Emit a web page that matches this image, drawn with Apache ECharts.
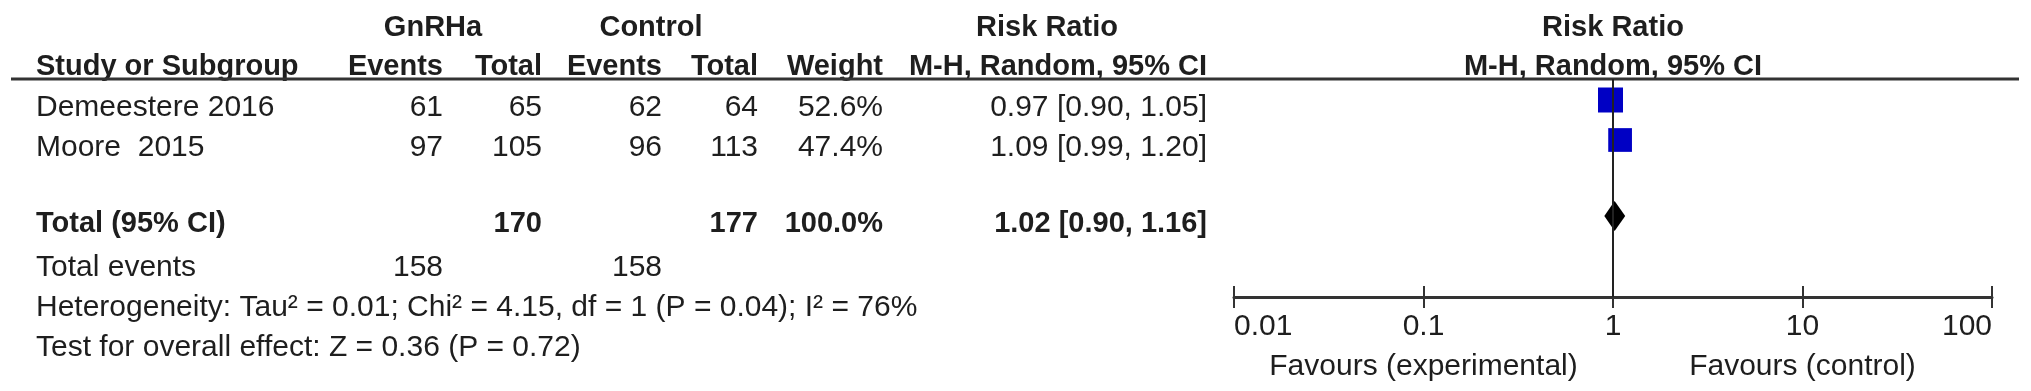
<!DOCTYPE html>
<html>
<head>
<meta charset="utf-8">
<title>Forest plot</title>
<script src="https://cdn.jsdelivr.net/npm/echarts@6/dist/echarts.min.js"></script>
<style>
  html, body { margin: 0; padding: 0; background: #fff; }
  #chart { width: 2031px; height: 391px; }
</style>
</head>
<body>
<div id="chart"></div>
<script>
// study data
var studies = ['Demeestere 2016', 'Moore  2015'];
var gnrhaEvents = [61, 97];
var gnrhaTotal = [65, 105];
var controlEvents = [62, 96];
var controlTotal = [64, 113];
var weights = [52.6, 47.4];
var riskRatio = [0.97, 1.09];
var ciLow = [0.90, 0.99];
var ciHigh = [1.05, 1.20];

// pooled result
var pooled = { rr: 1.02, low: 0.90, high: 1.16 };
var pooledTotals = { gnrha: 170, control: 177, weight: '100.0%' };
var totalEvents = { gnrha: 158, control: 158 };
var heterogeneityText = 'Heterogeneity: Tau\u00b2 = 0.01; Chi\u00b2 = 4.15, df = 1 (P = 0.04); I\u00b2 = 76%';
var overallText = 'Test for overall effect: Z = 0.36 (P = 0.72)';

var xTicks = [0.01, 0.1, 1, 10, 100];

// row positions on the y scale (1 row = 40px)
var studyRows = [1, 2];
var totalRow = 3.9;

var FONT = '"Liberation Sans", Arial, sans-serif';
var TXT = '#1e1e1e';
var FS_B = 29;   // bold headers
var FS = 30;     // regular text

var chart = echarts.init(document.getElementById('chart'));

var fmt = function (v) { return v.toFixed(2); };

var option = {
  backgroundColor: '#fff',
  animation: false,
  grid: { left: 1234, right: 39, top: 79, height: 218 },
  xAxis: [
    {
      type: 'log', logBase: 10, min: 0.01, max: 100, interval: 1,
      position: 'bottom',
      axisLine: { show: true, lineStyle: { color: '#333', width: 3 } },
      axisTick: { show: true, inside: false, length: 11, lineStyle: { color: '#333', width: 2 } },
      axisLabel: {
        show: true, margin: 15, color: TXT, fontSize: FS, fontFamily: FONT,
        alignMinLabel: 'left', alignMaxLabel: 'right',
        formatter: function (v) {
          var best = xTicks.reduce(function (a, b) { return Math.abs(Math.log10(b) - Math.log10(v)) < Math.abs(Math.log10(a) - Math.log10(v)) ? b : a; });
          return String(best);
        }
      },
      splitLine: { show: false }
    },
    {
      type: 'log', logBase: 10, min: 0.01, max: 100, interval: 1,
      position: 'bottom',
      axisLine: { show: false },
      axisTick: { show: true, inside: true, length: 11, lineStyle: { color: '#333', width: 2 } },
      axisLabel: { show: false },
      splitLine: { show: false }
    }
  ],
  yAxis: { type: 'value', inverse: true, min: 0.475, max: 5.925, show: false },
  series: [
    {
      // confidence intervals + line of no effect
      type: 'custom',
      z: 1,
      data: studies.map(function (s, i) { return [ciLow[i], ciHigh[i], studyRows[i]]; }),
      renderItem: function (params, api) {
        var a = api.coord([api.value(0), api.value(2)]);
        var b = api.coord([api.value(1), api.value(2)]);
        return { type: 'line', shape: { x1: a[0], y1: a[1], x2: b[0], y2: b[1] }, style: { stroke: '#222', lineWidth: 2 } };
      },
      markLine: {
        silent: true,
        symbol: ['none', 'none'],
        label: { show: false },
        lineStyle: { color: '#222', width: 2, type: 'solid' },
        data: [{ xAxis: 1 }]
      }
    },
    {
      type: 'scatter',
      z: 3,
      symbol: 'rect',
      data: studies.map(function (s, i) { return [riskRatio[i], studyRows[i], weights[i]]; }),
      symbolSize: function (v) { return 25 * Math.sqrt(v[2] / 52.6); },
      itemStyle: { color: '#0000c4', opacity: 1 }
    },
    {
      type: 'custom',
      z: 3,
      data: [[pooled.low, pooled.rr, pooled.high, totalRow]],
      renderItem: function (params, api) {
        var l = api.coord([api.value(0), api.value(3)]);
        var m = api.coord([api.value(1), api.value(3)]);
        var r = api.coord([api.value(2), api.value(3)]);
        return {
          type: 'polygon',
          shape: { points: [[l[0], l[1]], [m[0], m[1] - 15], [r[0], r[1]], [m[0], m[1] + 15]] },
          style: { fill: '#000' }
        };
      }
    }
  ]
};

chart.setOption(option);

// table text, placed on the same row scale as the plot
function rowY(r) { return chart.convertToPixel({ yAxisIndex: 0 }, r) + 8; }
function colX(v) { return chart.convertToPixel({ xAxisIndex: 0 }, v); }

function txt(text, x, y, align, bold) {
  return {
    type: 'text', silent: true,
    style: {
      text: String(text), x: x, y: y,
      textAlign: align, align: align,
      textVerticalAlign: 'middle', verticalAlign: 'middle',
      font: (bold ? 'bold ' + FS_B : FS) + 'px ' + FONT,
      fill: TXT
    }
  };
}

var cols = { study: 36, gEv: 443, gTot: 542, cEv: 662, cTot: 758, weight: 883, ci: 1207 };
var g = [];
var h1 = rowY(-1), h2 = rowY(0) - 1;
g.push(txt('GnRHa', 433, h1, 'center', true));
g.push(txt('Control', 651, h1, 'center', true));
g.push(txt('Risk Ratio', 1047, h1, 'center', true));
g.push(txt('Risk Ratio', colX(1), h1, 'center', true));
g.push(txt('Study or Subgroup', cols.study, h2, 'left', true));
g.push(txt('Events', cols.gEv, h2, 'right', true));
g.push(txt('Total', cols.gTot, h2, 'right', true));
g.push(txt('Events', cols.cEv, h2, 'right', true));
g.push(txt('Total', cols.cTot, h2, 'right', true));
g.push(txt('Weight', cols.weight, h2, 'right', true));
g.push(txt('M-H, Random, 95% CI', cols.ci, h2, 'right', true));
g.push(txt('M-H, Random, 95% CI', colX(1), h2, 'center', true));

studies.forEach(function (s, i) {
  var y = rowY(studyRows[i]);
  g.push(txt(s, cols.study, y, 'left'));
  g.push(txt(gnrhaEvents[i], cols.gEv, y, 'right'));
  g.push(txt(gnrhaTotal[i], cols.gTot, y, 'right'));
  g.push(txt(controlEvents[i], cols.cEv, y, 'right'));
  g.push(txt(controlTotal[i], cols.cTot, y, 'right'));
  g.push(txt(weights[i].toFixed(1) + '%', cols.weight, y, 'right'));
  g.push(txt(fmt(riskRatio[i]) + ' [' + fmt(ciLow[i]) + ', ' + fmt(ciHigh[i]) + ']', cols.ci, y, 'right'));
});

var ty = rowY(totalRow);
g.push(txt('Total (95% CI)', cols.study, ty, 'left', true));
g.push(txt(pooledTotals.gnrha, cols.gTot, ty, 'right', true));
g.push(txt(pooledTotals.control, cols.cTot, ty, 'right', true));
g.push(txt(pooledTotals.weight, cols.weight, ty, 'right', true));
g.push(txt(fmt(pooled.rr) + ' [' + fmt(pooled.low) + ', ' + fmt(pooled.high) + ']', cols.ci, ty, 'right', true));

var ey = rowY(5);
g.push(txt('Total events', cols.study, ey, 'left'));
g.push(txt(totalEvents.gnrha, cols.gEv, ey, 'right'));
g.push(txt(totalEvents.control, cols.cEv, ey, 'right'));
g.push(txt(heterogeneityText, cols.study, rowY(6), 'left'));
g.push(txt(overallText, cols.study, rowY(7), 'left'));

// header rule
var ruleY = chart.convertToPixel({ yAxisIndex: 0 }, 0.475);
g.push({ type: 'line', silent: true, shape: { x1: 11, y1: ruleY, x2: 2019, y2: ruleY }, style: { stroke: '#333', lineWidth: 3 } });

// favours labels under the axis
var axisY = chart.convertToPixel({ yAxisIndex: 0 }, 5.925);
g.push(txt('Favours (experimental)', colX(0.1), axisY + 70, 'center'));
g.push(txt('Favours (control)', colX(10), axisY + 70, 'center'));

chart.setOption({ graphic: g });
</script>
</body>
</html>
